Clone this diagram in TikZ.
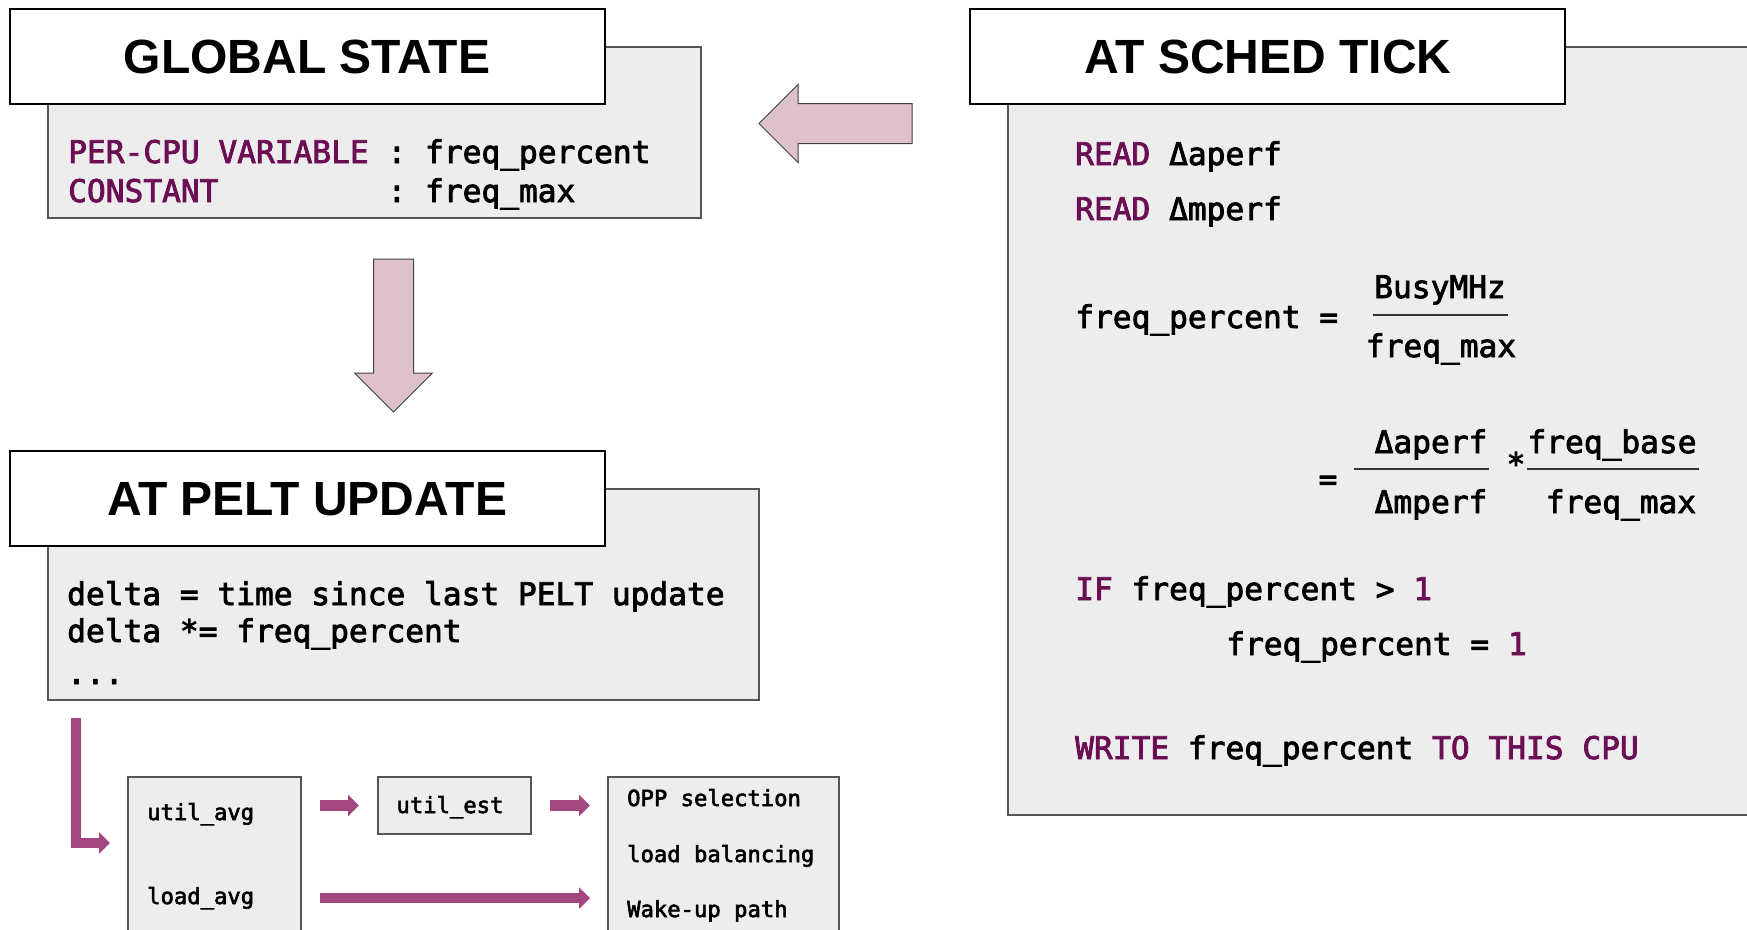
\documentclass[tikz,border=0pt]{standalone}
\usepackage{fontspec}
\usetikzlibrary{shapes.arrows,arrows.meta,calc}

\newfontfamily\codefont{DejaVu Sans Mono}[FakeBold=2.6]
\newfontfamily\headfont{Liberation Sans}

\definecolor{panelgray}{HTML}{EDEDED}
\definecolor{kwpurple}{HTML}{6C0E54}
\definecolor{flowpurple}{HTML}{A3477E}
\definecolor{blockpink}{HTML}{DFC1CB}
\definecolor{edgegray}{HTML}{555555}

\newcommand\kw[1]{\textcolor{kwpurple}{#1}}

\tikzset{
  panel/.style={fill=panelgray, draw=edgegray, line width=1.3pt,
    anchor=north west, inner sep=0pt, outer sep=0pt},
  header/.style={fill=white, draw=black, line width=1.3pt,
    anchor=north west, inner sep=0pt, outer sep=0pt,
    minimum width=595pt, minimum height=95pt},
  headtext/.style={anchor=base, inner sep=0pt,
    font=\headfont\bfseries\fontsize{48}{54}\selectfont},
  codeline/.style={anchor=base west, inner sep=0pt,
    font=\codefont\fontsize{31.2}{37}\selectfont},
  codemid/.style={anchor=base, inner sep=0pt,
    font=\codefont\fontsize{31.2}{37}\selectfont},
  smallcode/.style={anchor=base west, inner sep=0pt,
    font=\codefont\fontsize{22.2}{27}\selectfont},
  fracrule/.style={draw=black!80, line width=1.2pt},
  blockarrow/.style={single arrow, fill=blockpink, draw=black!75,
    line width=1pt, inner sep=0pt, outer sep=0pt,
    text height=39pt, text depth=0pt, text width=0pt,
    minimum height=153pt, minimum width=77pt,
    single arrow head extend=19pt},
  flow/.style={draw=flowpurple, line width=10.5pt,
    -{Triangle[length=11pt,width=21pt]}}
}

\begin{document}
\begin{tikzpicture}[x=1pt,y=-1pt]
  \useasboundingbox (0,0) rectangle (1747,929);
  \fill[white] (0,0) rectangle (1747,929);
  \clip (0,0) rectangle (1747,929);

  % ---- global state panel ----
  \node[panel, minimum width=653pt, minimum height=171pt] (gsbody) at (48,47) {};
  \node[header] (gshead) at (10,9) {};
  \node[headtext] (gstitle) at (307,73) {GLOBAL STATE};
  \node[codeline] (gsvar) at (68,163)
    {\kw{PER-CPU VARIABLE} : freq\_percent};
  \node[codeline] (gsconst) at (68,202)
    {\kw{CONSTANT}\ \ \ \ \ \ \ \ \ : freq\_max};

  % ---- sched tick panel ----
  \node[panel, minimum width=760pt, minimum height=768pt] (stbody) at (1008,47) {};
  \node[header] (sthead) at (970,9) {};
  \node[headtext] (sttitle) at (1268,73) {AT SCHED TICK};
  \node[codeline] (rda) at (1075,165) {\kw{READ} Δaperf};
  \node[codeline] (rdm) at (1075,220) {\kw{READ} Δmperf};
  \node[codeline] (fpeq) at (1075,328) {freq\_percent =};
  \node[codemid] (busy) at (1440,298) {BusyMHz};
  \draw[fracrule] (1373,315) -- (1508,315);
  \node[codemid] (fmaxa) at (1441,357) {freq\_max};
  \node[codemid] (eqb) at (1328,490) {=};
  \node[codemid] (daperf) at (1431,453) {Δaperf};
  \draw[fracrule] (1354,469) -- (1489,469);
  \node[codemid] (dmperf) at (1431,513) {Δmperf};
  \node[codemid] (times) at (1516,475) {*};
  \node[codemid] (fbase) at (1612,453) {freq\_base};
  \draw[fracrule] (1527,469) -- (1699,469);
  \node[codemid] (fmaxb) at (1621,513) {freq\_max};
  \node[codeline] (ifl) at (1075,600) {\kw{IF} freq\_percent > \kw{1}};
  \node[codeline] (setl) at (1226,655) {freq\_percent = \kw{1}};
  \node[codeline] (wrl) at (1075,759)
    {\kw{WRITE} freq\_percent \kw{TO THIS CPU}};

  % ---- pelt update panel ----
  \node[panel, minimum width=711pt, minimum height=211pt] (pubody) at (48,489) {};
  \node[header] (puhead) at (10,451) {};
  \node[headtext] (putitle) at (307,515) {AT PELT UPDATE};
  \node[codeline] (pul1) at (67,605) {delta = time since last PELT update};
  \node[codeline] (pul2) at (67,642) {delta *= freq\_percent};
  \node[codeline] (pul3) at (67,684) {...};

  % ---- block arrows between panels ----
  \node[blockarrow, rotate=180] (tickto) at (845.5,123.5) {};
  \node[blockarrow, rotate=-90] (stateto) at (393.5,325.5) {};

  % ---- signal consumers ----
  \node[panel, minimum width=173pt, minimum height=170pt] (avgbox) at (128,777) {};
  \node[smallcode] (ua) at (147,820) {util\_avg};
  \node[smallcode] (la) at (147,904) {load\_avg};
  \node[panel, minimum width=153pt, minimum height=57pt] (estbox) at (378,777) {};
  \node[smallcode, anchor=base] (ue) at (450,813) {util\_est};
  \node[panel, minimum width=231pt, minimum height=170pt] (usebox) at (608,777) {};
  \node[smallcode] (opp) at (627,806) {OPP selection};
  \node[smallcode] (lb) at (627,862) {load balancing};
  \node[smallcode] (wk) at (627,917) {Wake-up path};

  % ---- flow connectors ----
  \coordinate (lstart) at (76,718);
  \coordinate (lrow) at (0,843);
  \draw[flow] (lstart) |- ($(avgbox.west |- lrow)+(-18,0)$);
  \draw[flow] ($(avgbox.east |- estbox.center)+(19,0)$) -- ($(estbox.west)+(-19,0)$);
  \draw[flow] ($(estbox.east)+(19,0)$) -- ($(usebox.west |- estbox.center)+(-18,0)$);
  \draw[flow] ($(avgbox.east |- la.center)+(19,0)$) -- ($(usebox.west |- la.center)+(-18,0)$);
\end{tikzpicture}
\end{document}
